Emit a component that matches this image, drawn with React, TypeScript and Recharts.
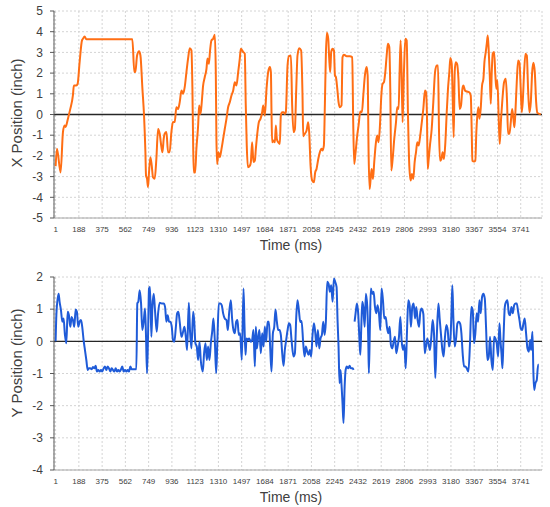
import React from "react";
import {
    CartesianGrid,
    Line,
    LineChart,
    ReferenceLine,
    XAxis,
    YAxis,
} from "recharts";

// time axis labels (every 187 ms)
const timeTicks = [
    1, 188, 375, 562, 749, 936, 1123, 1310, 1497, 1684, 1871, 2058, 2245, 2432,
    2619, 2806, 2993, 3180, 3367, 3554, 3741,
];
const xPosTicks = [-5, -4, -3, -2, -1, 0, 1, 2, 3, 4, 5];
const yPosTicks = [-4, -3, -2, -1, 0, 1, 2];

// X position trace
const xTimes = [
    1, 12, 41, 60, 73, 81, 100, 119, 140, 148, 167, 178, 194, 213, 221, 234, 248, 618,
    634, 642, 656, 672, 683, 699, 712, 723, 728, 736, 744, 752, 763, 774, 784, 798,
    811, 825, 838, 852, 860, 870, 878, 892, 905, 918, 932, 944, 959, 972, 986, 999,
    1013, 1026, 1039, 1053, 1066, 1080, 1093, 1101, 1107, 1112, 1123, 1133, 1147,
    1155, 1166, 1174, 1187, 1200, 1214, 1222, 1233, 1243, 1254, 1268, 1281, 1289,
    1294, 1300, 1310, 1321, 1335, 1348, 1361, 1375, 1388, 1402, 1415, 1429, 1442,
    1455, 1469, 1482, 1490, 1509, 1522, 1530, 1538, 1547, 1563, 1571, 1581, 1592,
    1603, 1611, 1624, 1635, 1649, 1662, 1670, 1683, 1697, 1710, 1724, 1732, 1737,
    1742, 1753, 1764, 1772, 1780, 1791, 1804, 1812, 1823, 1834, 1844, 1852, 1866,
    1877, 1893, 1903, 1914, 1925, 1936, 1946, 1960, 1975, 1986, 1992, 2005, 2019,
    2032, 2040, 2051, 2064, 2078, 2088, 2099, 2113, 2126, 2139, 2147, 2158, 2166,
    2174, 2182, 2193, 2201, 2209, 2217, 2228, 2239, 2247, 2255, 2266, 2276, 2287,
    2300, 2308, 2319, 2341, 2367, 2386, 2394, 2402, 2413, 2426, 2437, 2451, 2464,
    2475, 2488, 2502, 2510, 2518, 2526, 2534, 2542, 2553, 2563, 2577, 2587, 2598,
    2609, 2620, 2630, 2641, 2652, 2663, 2673, 2684, 2692, 2700, 2711, 2724, 2738,
    2748, 2759, 2767, 2775, 2783, 2791, 2802, 2813, 2824, 2834, 2845, 2856, 2866,
    2877, 2888, 2899, 2909, 2920, 2931, 2944, 2958, 2971, 2979, 2987, 2993, 3001,
    3011, 3025, 3038, 3052, 3065, 3076, 3084, 3092, 3103, 3113, 3124, 3135, 3146,
    3156, 3167, 3175, 3186, 3194, 3202, 3210, 3218, 3229, 3240, 3250, 3261, 3272,
    3280, 3293, 3307, 3325, 3339, 3347, 3352, 3366, 3376, 3384, 3392, 3401, 3409,
    3419, 3430, 3441, 3449, 3460, 3468, 3476, 3484, 3492, 3500, 3508, 3516, 3527,
    3537, 3545, 3553, 3564, 3572, 3583, 3594, 3607, 3621, 3631, 3639, 3650, 3661,
    3672, 3682, 3690, 3698, 3709, 3720, 3731, 3741, 3749, 3757, 3768, 3779, 3790,
    3800, 3811, 3822, 3833, 3843, 3854, 3865, 3875, 3891, 3902,
];
const xValues = [
    -2.5, -1.66, -2.8, -0.85, -0.53, -0.6, -0.2, 0.27, 0.92, 1.4, 1.4, 1.48, 2.53, 3.58, 3.66, 3.77, 3.63, 3.63,
    2.05, 2.05, 2.85, 3.05, 2.85, 1.24, -0.05, -1.82, -2.95, -3.1, -3.5, -2.8, -2.06, -2.47, -3.03, -3.1,
    -2.15, -0.7, -0.93, -1.58, -1.82, -1.18, -0.93, -0.85, -1.82, -1.82, -0.85, -0.37, -0.35, 0.35, 0.27, 0.6,
    1.16, 1.0, 1.32, 2.05, 2.7, 3.2, 3.1, 1.24, -1.5, -2.8, -2.8, -1.66, -0.53,
    0.44, 0.03, 0.44, 1.4, 1.8, 2.2, 2.7, 2.45, 3.1, 3.58, 3.66, 3.85, 2.05,
    -1.18, -2.39, -1.82, -2.06, -1.66, -1.18, -0.7, -0.2, 0.35, 0.6, 0.92, 1.16, 1.56,
    1.4, 2.05, 2.7, 3.18, 3.02, 2.94, 0.44, -1.5, -2.55, -2.47, -2.3, -1.34, -2.3,
    -2.23, -1.66, -0.85, -0.37, -0.2, 0.11, 0.44, -0.05, 1.24, 2.05, 2.29, 2.05, 0.11,
    -1.34, -1.26, -1.34, -0.53, -1.18, -1.34, -1.42, -0.05, 0.11, 0.11, 0.03, 0.11, 2.37,
    2.82, 2.85, 0.44, -0.85, -0.7, 1.24, 2.85, 3.2, 3.1, 1.0, -1.05, -0.93, -0.77,
    -0.37, -0.85, -2.47, -3.19, -3.27, -2.8, -2.63, -2.15, -1.82, -1.66, -1.74, -1.5, 0.44,
    2.85, 3.95, 3.66, 2.7, 2.05, 3.02, 3.18, 3.1, 1.89, 1.8, 1.24, 0.6, 0.35,
    0.44, 2.77, 2.89, 2.82, 2.82, 2.77, -0.37, -2.39, -1.82, -1.02, -0.53, 0.15, 0.11,
    0.92, 1.89, 2.29, 1.89, -1.98, -3.6, -3.11, -2.63, -3.11, -2.3, -1.34, -1.02, -1.34,
    -0.53, 0.92, 1.48, 1.56, 2.05, 2.85, 3.42, 3.26, 1.24, -2.71, -2.15, -1.18, -0.37,
    0.35, 0.27, 2.05, 3.58, 2.05, -0.37, 2.05, 3.66, 3.58, 0.11, -2.47, -3.19, -2.87,
    -3.11, -2.3, -1.82, -1.34, -1.5, -1.1, -0.45, 0.3, 1.16, 1.08, -0.05, -2.63, -2.15,
    -1.5, -0.7, 0.6, 2.05, 2.37, 2.37, -0.85, -2.23, -2.15, -1.82, -2.15, -1.34, 0.11,
    1.24, 2.05, 2.73, 2.45, 0.76, -1.1, 2.05, 2.53, 2.45, 1.73, 0.27, 0.44, 1.24,
    1.4, 1.16, 1.11, 1.08, 0.92, -0.85, -2.23, -2.27, -2.23, -0.85, -0.05, 0.35, -0.2,
    0.27, 1.4, 1.73, 2.53, 3.02, 3.42, 3.82, 3.02, 1.89, 0.52, 2.05, 2.94, 3.02,
    1.89, 1.24, 1.65, -0.2, -1.42, -0.2, 0.76, 1.56, 1.73, 0.6, -0.93, -0.93, -0.37,
    0.27, -0.2, -0.61, 0.11, 1.56, 2.61, 2.5, 1.24, 0.11, 0.6, 2.05, 2.94, 2.85,
    1.24, 0.11, 0.6, 2.05, 2.5, 2.05, 0.6, 0.08, 0.03, 0,
];

// Y position trace (null = break in the recording)
const yTimes = [
    1, 8, 25, 33, 44, 55, 65, 76, 87, 98, 108, 119, 130, 140, 151, 162, 172, 183,
    194, 205, 215, 226, 237, 248, 259, 269, 280, 291, 301, 312, 323, 333, 344, 355,
    366, 376, 387, 398, 409, 419, 430, 441, 451, 462, 473, 484, 495, 505, 516, 527,
    537, 548, 559, 570, 580, 591, 602, 612, 623, 639, 650, 658, 666, 677, 688, 698,
    709, 720, 728, 736, 744, 752, 760, 771, 779, 790, 800, 814, 825, 838, 854, 870,
    881, 892, 902, 913, 924, 935, 945, 956, 967, 978, 988, 999, 1013, 1026, 1037,
    1048, 1058, 1072, 1082, 1093, 1107, 1115, 1125, 1136, 1147, 1158, 1168, 1184,
    1195, 1206, 1217, 1227, 1238, 1249, 1260, 1270, 1281, 1292, 1302, 1313, 1327,
    1337, 1348, 1361, 1375, 1386, 1396, 1410, 1420, 1431, 1442, 1453, 1463, 1474,
    1485, 1498, 1512, 1520, 1528, 1536, 1547, 1557, 1571, 1581, 1592, 1603, 1611,
    1619, 1630, 1640, 1651, 1662, 1673, 1683, 1694, 1705, 1716, 1726, 1737, 1748,
    1759, 1769, 1780, 1791, 1801, 1812, 1823, 1834, 1844, 1855, 1866, 1877, 1887,
    1898, 1914, 1925, 1936, 1946, 1957, 1968, 1979, 1992, 2003, 2013, 2024, 2035,
    2045, 2056, 2067, 2078, 2088, 2099, 2110, 2121, 2131, 2142, 2153, 2164, 2174,
    2185, 2196, 2206, 2217, 2228, 2239, 2249, 2260, 2268, 2276, 2284, 2292, 2300,
    2308, 2316, 2325, 2333, 2343, 2354, 2365, 2375, 2389, 2397, 2401, 2405, 2413,
    2424, 2434, 2443, 2451, 2459, 2467, 2475, 2486, 2496, 2507, 2515, 2520, 2528,
    2536, 2547, 2558, 2569, 2579, 2590, 2601, 2612, 2622, 2633, 2644, 2655, 2665,
    2676, 2687, 2697, 2708, 2719, 2730, 2740, 2751, 2762, 2773, 2783, 2794, 2805,
    2816, 2826, 2837, 2848, 2858, 2869, 2880, 2891, 2901, 2912, 2923, 2934, 2944,
    2958, 2969, 2979, 2990, 3001, 3011, 3022, 3033, 3044, 3054, 3065, 3079, 3089,
    3100, 3111, 3121, 3132, 3143, 3154, 3164, 3175, 3183, 3191, 3199, 3210, 3221,
    3232, 3242, 3253, 3264, 3274, 3285, 3296, 3307, 3320, 3333, 3344, 3355, 3366,
    3376, 3387, 3398, 3409, 3419, 3430, 3441, 3452, 3462, 3473, 3484, 3494, 3505,
    3516, 3527, 3537, 3548, 3559, 3570, 3578, 3586, 3594, 3602, 3613, 3623, 3634,
    3645, 3655, 3666, 3677, 3688, 3698, 3709, 3720, 3731, 3741, 3752, 3763, 3773,
    3784, 3795, 3806, 3816, 3824, 3835, 3843, 3849, 3859, 3870, 3881, 3886,
];
const yValues = [
    0, 0.9, 1.48, 1.23, 0.97, 0.61, 0.71, 0.2, -0.06, 0.92, 0.81, 0.45, 0.76, 0.66, 0.45, 0.99, 0.92, 0.45,
    0.61, 0.66, 0.45, 0.04, -0.27, -0.58, -0.89, -0.84, -0.84, -0.87, -0.8, -0.84, -0.76, -0.94, -0.89, -0.94,
    -0.89, -0.94, -0.84, -0.78, -0.89, -0.78, -0.84, -0.94, -0.84, -0.89, -0.94, -0.84, -0.94, -0.89, -0.94, -0.87,
    -0.78, -0.94, -0.89, -0.94, -0.89, -0.94, -0.78, -0.87, -0.87, -0.87, -0.87, 1.18, 1.23, 1.59, 1.18, 0.35,
    0.61, 1.02, 0.14, -0.99, 0.14, 1.64, 1.69, 0.14, 1.07, 1.48, 0.97, 0.3, 0.87, 1.2, 1.18, 1.18,
    1.07, 0.61, 0.81, 0.61, 0.61, 0.45, 0.04, -0.01, 0.4, 0.87, 0.92, 0.6, 0.14, 0.3, 0.45,
    0.14, -0.27, 1.2, 0.3, -0.22, 0.92, 0.66, -0.06, -0.16, -0.58, -0.01, -0.58, -0.94,
    -0.37, -0.06, -0.58, -0.16, -0.58, -0.06, 0.3, 0.71, 0.04, -0.99, 0.04, 1.18, 1.18,
    1.12, 0.87, 0.71, 0.66, 0.35, 0.87, 1.28, 0.71, 0.35, 0.25, 0.61, 0.66, 0.2,
    0.25, -0.58, 1.64, 0.45, -0.42, 0.09, 0.04, 0.09, -0.01, 0.04, 0.35, -0.78, 0.45,
    -0.22, 0.14, 0.35, -0.37, 0.25, -0.16, 0.45, -0.01, 0.61, 0.61, -0.16, -0.94, 0.25,
    0.45, 0.99, 0.61, 0.35, 0.35, 0.2, -0.37, -0.76, -0.27, 0.04, 0.35, 0.56, 0.51,
    0.04, -0.47, -0.37, 0.76, 1.28, 0.97, 0.6, 0.63, -0.06, -0.47, -0.16, -0.32, -0.42,
    -0.27, -0.47, 0.2, 0.56, 0.3, -0.16, 0.35, -0.22, 0.09, 0.2, 0.61, 0.2, 0.61,
    1.85, 1.79, 1.54, 1.74, 1.23, 1.95, 1.85, 1.69, 0.66, -0.16, -1.3, -0.89, -1.35,
    -1.92, -2.54, -1.4, -0.89, -0.78, -0.84, -0.76, -0.84, -0.84, -0.89, null, 0.61, 0.87,
    1.18, 0.87, 0.14, -0.42, 0.45, 1.23, 1.07, 0.45, 1.48, 1.07, 0.04, -0.99, 0.45,
    1.64, 1.48, 1.54, 1.07, 0.87, 1.12, 0.87, 0.35, 1.64, 1.28, 0.71, 0.76, 0.45,
    0.25, 0.45, -0.11, -0.22, -0.01, 0.14, -0.37, -0.16, 0.14, 0.76, 0.04, -0.27, -0.11,
    -0.84, 0.25, 1.28, 1.12, 0.45, 1.07, 1.18, 0.71, 1.07, 0.66, 0.45, 0.92, 1.02,
    0.85, -0.37, -0.16, 0.09, -0.11, -0.27, 0.14, 0.66, 0.2, -1.14, 0.04, 1.18, 0.71,
    0.2, -0.27, -0.47, 0.14, 0.51, 0.35, -0.16, 0.04, 0.76, 1.74, 0.76, -0.16, 0.09,
    0.56, 0.61, 0.56, 0.25, -0.37, -0.78, -0.78, -0.84, -0.94, -0.06, 1.07, 0.97, -0.06,
    0.25, 0.87, 0.61, 1.28, 0.87, 1.38, 1.48, 1.33, 0.45, -0.58, -0.47, 0.14, -0.58,
    -0.89, 0.14, 0.09, -0.06, -0.47, 0.56, 0.04, -0.37, -0.84, 0.04, 1.07, 1.23, 1.28,
    0.87, 0.81, 1.07, 0.87, 1.12, 1.18, 1.18, 0.92, 0.66, 0.4, 0.35, 0.56, 0.71,
    0.25, -0.22, -0.32, 0.04, -0.27, 0.3, -0.99, -1.51, -1.3, -1.2, -0.73, -0.73,
];

const xData = xTimes.map((t, i) => ({ t, v: xValues[i] }));
const yData = yTimes.map((t, i) => ({ t, v: yValues[i] }));

const textColor = "#404040";

// axis title drawn at a fixed spot inside the chart svg
function AxisTitle({ px, py, rot, title }: { px: number; py: number; rot?: number; title: string }) {
    return (
        <text
            x={px}
            y={py}
            transform={rot ? `rotate(${rot} ${px} ${py})` : undefined}
            textAnchor="middle"
            dominantBaseline={rot ? "central" : "auto"}
            fontSize={rot ? 15 : 14}
            fill={textColor}
        >
            {title}
        </text>
    );
}

interface PanelProps {
    data: { t: number; v: number | null }[];
    height: number;
    top: number;
    ticks: number[];
    color: string;
    yTitle: string;
    yTitleY: number;
}

function Panel({ data, height, top, ticks, color, yTitle, yTitleY }: PanelProps) {
    const plotBottom = height - 37;
    return (
        <LineChart
            width={550}
            height={height}
            data={data}
            margin={{ top, right: 8, bottom: 0, left: 0 }}
        >
            <CartesianGrid strokeDasharray="2 2" stroke="#d4d4d4" />
            <XAxis
                dataKey="t"
                type="number"
                domain={[-12, 3912]}
                ticks={timeTicks}
                interval={0}
                height={37}
                tickLine={false}
                tickSize={0}
                tickMargin={8}
                axisLine={{ stroke: "#a6a6a6" }}
                tick={{ fontSize: 8, fill: textColor }}
                label={<AxisTitle px={291} py={plotBottom + 31.5} title="Time (ms)" />}
            />
            <YAxis
                type="number"
                domain={[ticks[0], ticks[ticks.length - 1]]}
                ticks={ticks}
                interval={0}
                width={54}
                tickSize={4}
                tickMargin={7}
                axisLine={{ stroke: "#595959" }}
                tickLine={{ stroke: "#595959" }}
                tick={{ fontSize: 12, fill: textColor }}
                label={<AxisTitle px={16} py={yTitleY} rot={-90} title={yTitle} />}
            />
            <ReferenceLine y={0} stroke="#262626" strokeWidth={1.3} />
            <Line
                type="monotone"
                dataKey="v"
                stroke={color}
                strokeWidth={2}
                dot={false}
                connectNulls={false}
                isAnimationActive={false}
            />
        </LineChart>
    );
}

export default function App() {
    return (
        <div
            style={{
                position: "absolute",
                left: 0,
                top: 0,
                width: 550,
                height: 507,
                background: "#fff",
                fontFamily: "'Liberation Sans', Arial, sans-serif",
            }}
        >
            <Panel
                data={xData}
                height={255}
                top={11}
                ticks={xPosTicks}
                color="#ff6e14"
                yTitle="X Position (inch)"
                yTitleY={113}
            />
            <Panel
                data={yData}
                height={252}
                top={22}
                ticks={yPosTicks}
                color="#1f5bd8"
                yTitle="Y Position (inch)"
                yTitleY={108}
            />
        </div>
    );
}
